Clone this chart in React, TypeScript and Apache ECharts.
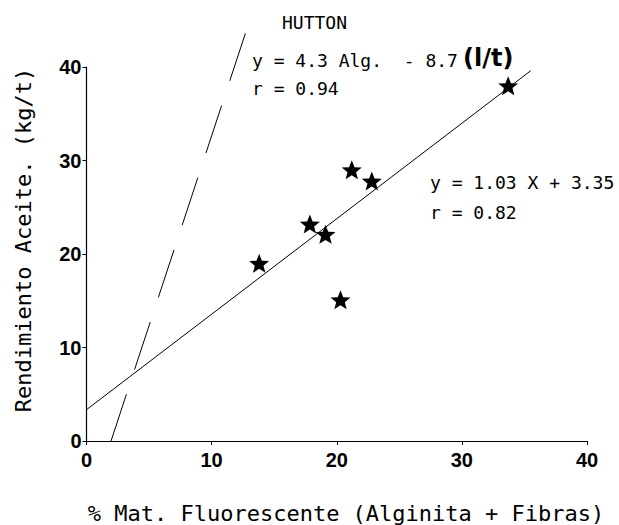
import React, { useEffect, useRef } from "react";
import * as echarts from "echarts";

// Sample points: % Mat. Fluorescente vs Rendimiento Aceite (kg/t)
const matFluorescente = [13.8, 17.85, 19.1, 21.2, 22.8, 20.3, 33.7];
const rendimiento = [19.0, 23.2, 22.1, 29.0, 27.8, 15.1, 38.0];

// Regression line y = 1.03 X + 3.35 (end points as drawn)
const fitLineX = [0, 35.5];
const fitLineY = [3.35, 39.6];

// Hutton line (dashed), end points as drawn
const huttonX = [12.7, 1.96];
const huttonY = [43.6, 0];

const xTicks = [0, 10, 20, 30, 40];
const yTicks = [0, 10, 20, 30, 40];

const annotations = [
  { text: "HUTTON", x: 282, y: 22 },
  { text: "y = 4.3 Alg.  - 8.7", x: 252, y: 60 },
  { text: "r = 0.94", x: 252, y: 88 },
  { text: "y = 1.03 X + 3.35", x: 430, y: 182 },
  { text: "r = 0.82", x: 430, y: 212 },
];

const STAR =
  "path://M0,-10L2.6,-3.4L9.51,-3.09L4.1,1.3L5.88,8.09L0,4.3L-5.88,8.09L-4.1,1.3L-9.51,-3.09L-2.6,-3.4Z";

const MONO = "'DejaVu Sans Mono', 'Liberation Mono', monospace";

export default function App() {
  const ref = useRef<HTMLDivElement>(null);
  useEffect(() => {
    document.body.style.margin = "0";
    const chart = echarts.init(ref.current as HTMLDivElement, null, { renderer: "svg" });
    const axisCommon = (margin: number, ticks: number[]) => ({
      type: "value",
      min: ticks[0],
      max: ticks[ticks.length - 1],
      interval: ticks[1] - ticks[0],
      axisLine: { show: true, onZero: false, lineStyle: { color: "#000", width: 1.2 } },
      axisTick: { show: true, inside: false, length: 4, lineStyle: { color: "#000", width: 1 } },
      axisLabel: {
        margin,
        color: "#000",
        fontFamily: "'Liberation Sans', Arial, sans-serif",
        fontWeight: "bold",
        fontSize: 20,
      },
      splitLine: { show: false },
    });
    chart.setOption({
      animation: false,
      backgroundColor: "#fff",
      grid: { left: 86.5, right: 32, top: 67, bottom: 84 },
      xAxis: axisCommon(9, xTicks),
      yAxis: axisCommon(5, yTicks),
      series: [
        {
          type: "line",
          data: fitLineX.map((x, i) => [x, fitLineY[i]]),
          symbol: "none",
          lineStyle: { color: "#000", width: 1 },
          z: 2,
        },
        {
          type: "line",
          data: huttonX.map((x, i) => [x, huttonY[i]]),
          symbol: "none",
          clip: false,
          lineStyle: { color: "#000", width: 1, type: [50, 26] },
          z: 2,
        },
        {
          type: "scatter",
          data: matFluorescente.map((x, i) => [x, rendimiento[i]]),
          symbol: STAR,
          symbolSize: [20, 19],
          itemStyle: { color: "#000", opacity: 1 },
          z: 3,
        },
      ],
      graphic: [
        ...annotations.map((a) => ({
          type: "text",
          x: a.x,
          y: a.y,
          style: {
            text: a.text,
            x: 0,
            y: 0,
            font: `18px ${MONO}`,
            fill: "#000",
            textAlign: "left",
            align: "left",
            textVerticalAlign: "middle",
            verticalAlign: "middle",
          },
        })),
        {
          type: "text",
          x: 463,
          y: 58,
          style: {
            text: "(l/t)",
            x: 0,
            y: 0,
            font: "bold 24px 'DejaVu Sans', sans-serif",
            fill: "#000",
            textAlign: "left",
            align: "left",
            textVerticalAlign: "middle",
            verticalAlign: "middle",
          },
        },
        {
          type: "text",
          x: 346,
          y: 513,
          style: {
            text: "% Mat. Fluorescente (Alginita + Fibras)",
            x: 0,
            y: 0,
            font: `22px ${MONO}`,
            fill: "#000",
            textAlign: "center",
            align: "center",
            textVerticalAlign: "middle",
            verticalAlign: "middle",
          },
        },
        {
          type: "text",
          x: 23,
          y: 240,
          rotation: Math.PI / 2,
          style: {
            text: "Rendimiento Aceite. (kg/t)",
            x: 0,
            y: 0,
            font: `22px ${MONO}`,
            fill: "#000",
            textAlign: "center",
            align: "center",
            textVerticalAlign: "middle",
            verticalAlign: "middle",
          },
        },
      ],
    });
    return () => chart.dispose();
  }, []);
  return <div ref={ref} style={{ width: 619, height: 525 }} />;
}
